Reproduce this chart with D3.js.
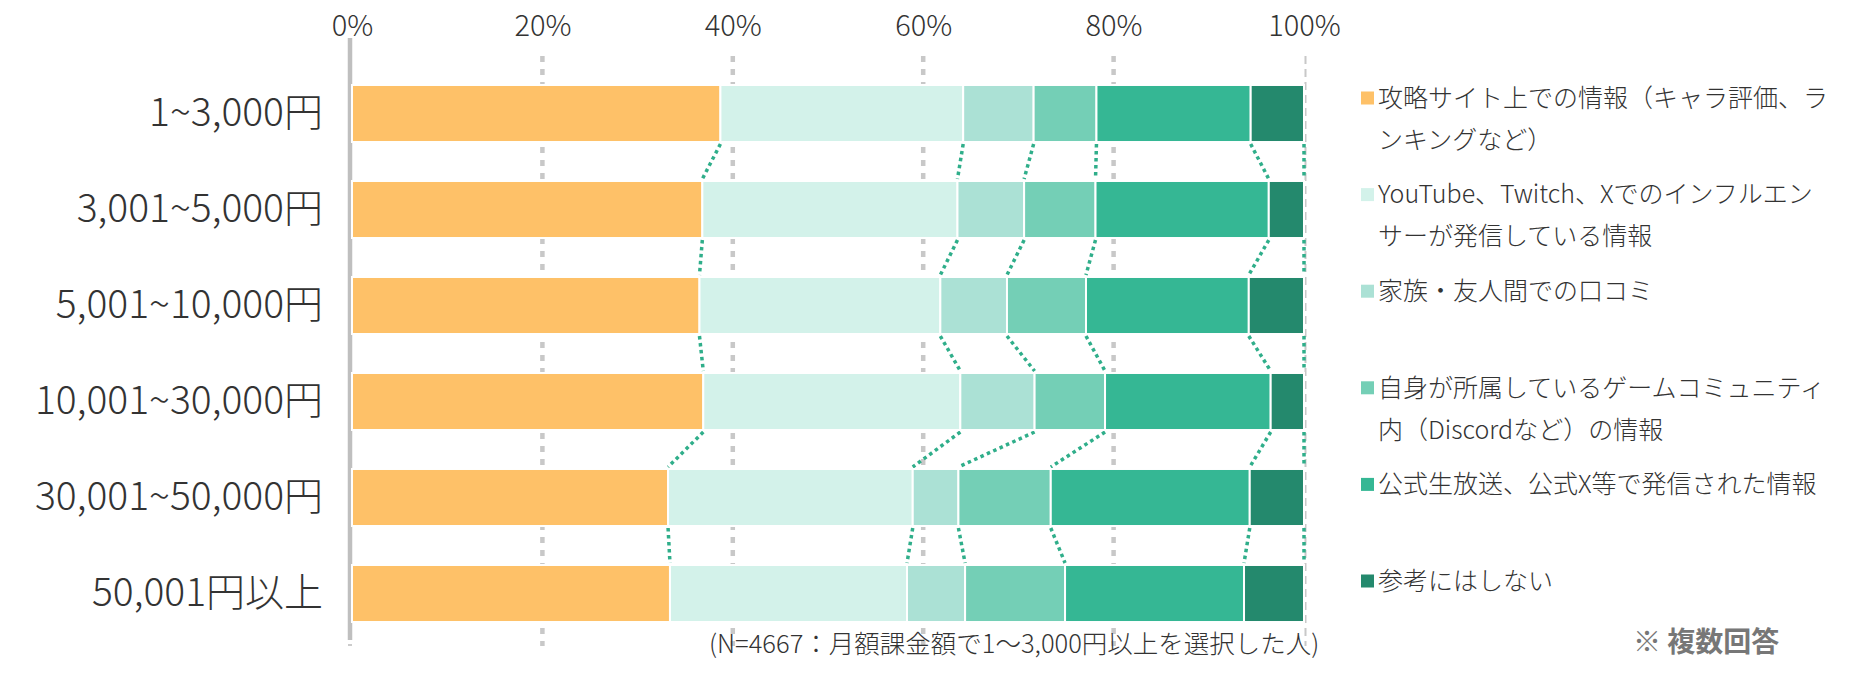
<!DOCTYPE html>
<html><head><meta charset="utf-8">
<script src="https://cdn.jsdelivr.net/npm/d3@7"></script>
<style>
html,body{margin:0;padding:0;background:#fff;}
svg{display:block;font-family:"Noto Sans CJK JP","Noto Sans",sans-serif;}
</style></head>
<body><svg id="chart" width="1872" height="677"></svg>
<script>
const categories = ["1~3,000円","3,001~5,000円","5,001~10,000円","10,001~30,000円","30,001~50,000円","50,001円以上"];
const seriesNames = [
  ["攻略サイト上での情報（キャラ評価、ラ","ンキングなど）"],
  ["YouTube、Twitch、Xでのインフルエン","サーが発信している情報"],
  ["家族・友人間での口コミ"],
  ["自身が所属しているゲームコミュニティ","内（Discordなど）の情報"],
  ["公式生放送、公式X等で発信された情報"],
  ["参考にはしない"]
];
const s1 = [38.7, 36.8, 36.5, 36.9, 33.2, 33.4];
const s2 = [25.5, 26.8, 25.3, 27.0, 25.7, 24.9];
const s3 = [7.4, 7.0, 7.0, 7.8, 4.8, 6.1];
const s4 = [6.6, 7.5, 8.3, 7.4, 9.7, 10.5];
const s5 = [16.2, 18.2, 17.1, 17.4, 20.9, 18.8];
const s6 = [5.6, 3.7, 5.8, 3.5, 5.7, 6.3];
const tickValues = [0, 20, 40, 60, 80, 100];
const footnote = "(N=4667：月額課金額で1～3,000円以上を選択した人)";
const note = "※ 複数回答";

const colors = ["#FEC168","#D3F2EA","#ABE1D5","#74CFB6","#35B794","#24896D"];
const series = [s1,s2,s3,s4,s5,s6];

const svg = d3.select("#chart");
const x = d3.scaleLinear().domain([0,100]).range([352,1304]);
const y = d3.scaleBand().domain(categories).range([65.5,641.5]).paddingInner(0.406).paddingOuter(0.203);

const rows = categories.map((c,i)=>{ const o={cat:c}; series.forEach((s,k)=>o["k"+k]=s[i]); return o;});
const stack = d3.stack().keys(series.map((s,k)=>"k"+k));
const stacked = stack(rows);

// gridlines
svg.append("g").selectAll("line").data(tickValues.slice(1)).join("line")
  .attr("x1",d=>x(d)+(d===100?1.5:0)).attr("x2",d=>x(d)+(d===100?1.5:0))
  .attr("y1",56).attr("y2",646)
  .attr("stroke","#c8c8c8").attr("stroke-width",d=>d===100?2:4.5)
  .attr("stroke-dasharray",d=>d===100?"8,5":"6,7");

// axis line at 0
svg.append("line").attr("x1",x(0)-2).attr("x2",x(0)-2).attr("y1",38).attr("y2",640)
  .attr("stroke","#bfbfbf").attr("stroke-width",4.5);
svg.append("line").attr("x1",x(0)-2).attr("x2",x(0)-2).attr("y1",644).attr("y2",646)
  .attr("stroke","#cccccc").attr("stroke-width",4);

// top axis labels
const axis = d3.axisTop(x).tickValues(tickValues).tickFormat(d=>d+"%").tickSize(0).tickPadding(0);
const ag = svg.append("g").attr("transform","translate(0,36)").call(axis);
ag.select(".domain").remove();
ag.selectAll("text").attr("font-size",29).attr("fill","#333").attr("font-family","'Noto Sans CJK JP'").attr("font-weight",300);

// connectors
const conn = svg.append("g");
for(let i=0;i<categories.length-1;i++){
  for(let k=0;k<series.length;k++){
    const xa = x(stacked[k][i][1]), xb = x(stacked[k][i+1][1]);
    conn.append("line")
      .attr("x1",xa).attr("y1",y(categories[i])+y.bandwidth()+2)
      .attr("x2",xb).attr("y2",y(categories[i+1])-2)
      .attr("stroke","#2FAE8A").attr("stroke-width",3.5).attr("stroke-dasharray","3.5,3.5");
  }
}

// bars
svg.append("g").selectAll("g").data(stacked).join("g").attr("fill",(d,k)=>colors[k])
  .selectAll("rect").data(d=>d).join("rect")
  .attr("x",d=>x(d[0])).attr("width",d=>x(d[1])-x(d[0]))
  .attr("y",d=>y(d.data.cat)).attr("height",y.bandwidth())
  .attr("stroke","#fff").attr("stroke-width",2);

// y labels
const yAxis = d3.axisLeft(y).tickSize(0).tickPadding(0);
const yg = svg.append("g").attr("transform","translate(323,0)").call(yAxis);
yg.select(".domain").remove();
yg.selectAll("text").attr("font-size",39).attr("fill","#333").attr("font-family","'Noto Sans CJK JP'").attr("font-weight",300);

// legend
const lg = svg.append("g");
seriesNames.forEach((lines,k)=>{
  const cy = 98 + 96.6*k;
  lg.append("rect").attr("x",1361).attr("y",cy-6.5).attr("width",13).attr("height",13).attr("fill",colors[k]);
  lines.forEach((t,j)=>{
    lg.append("text").attr("x",1378).attr("y",cy+j*42).attr("dy","0.35em")
      .attr("font-size",25).attr("fill","#333").attr("font-weight",300).text(t);
  });
});

// footnote
svg.append("text").attr("x",709).attr("y",644).attr("dy","0.35em")
  .attr("font-size",25.5).attr("fill","#333").attr("font-weight",300).text(footnote);
svg.append("text").attr("x",1633).attr("y",642).attr("dy","0.35em")
  .attr("font-size",28).attr("fill","#777").attr("font-weight",700).text(note);
</script></body></html>
